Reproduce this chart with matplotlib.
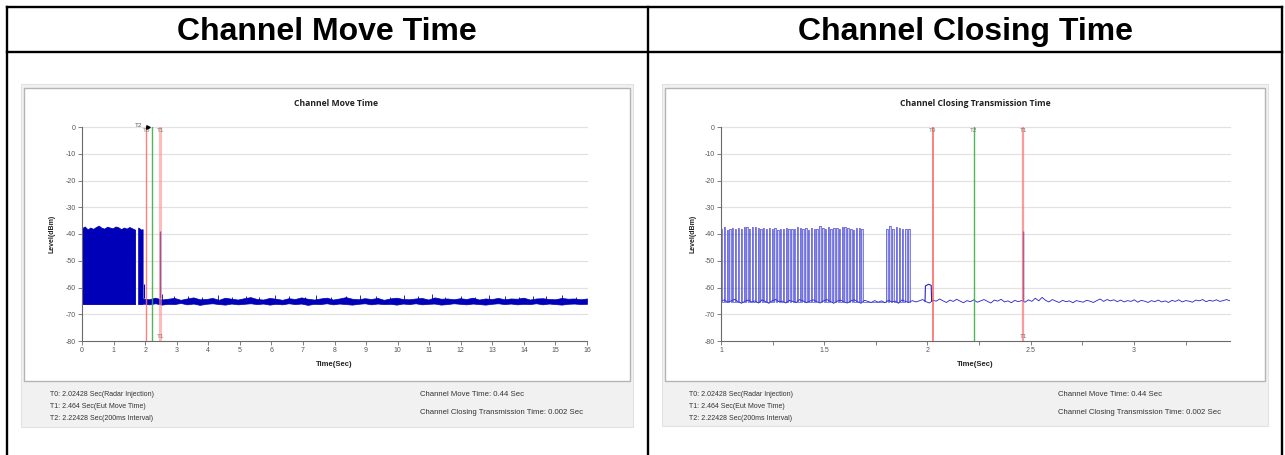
import numpy as np
import matplotlib
matplotlib.use('Agg')
import matplotlib.pyplot as plt
from matplotlib.patches import Rectangle
from matplotlib.lines import Line2D

plt.rcParams['font.family'] = ['Liberation Sans', 'DejaVu Sans']
plt.rcParams['axes.unicode_minus'] = False

# ---- data ----
headers = ['Channel Move Time', 'Channel Closing Time']
chart_titles = ['Channel Move Time', 'Channel Closing Transmission Time']

marker_names = ['T0', 'T2', 'T1']
marker_times = [2.02428, 2.22428, 2.464]

footer_left = ['T0: 2.02428 Sec(Radar Injection)',
               'T1: 2.464 Sec(Eut Move Time)',
               'T2: 2.22428 Sec(200ms Interval)']
footer_right = ['Channel Move Time: 0.44 Sec',
                'Channel Closing Transmission Time: 0.002 Sec']

y_ticks = [0, -10, -20, -30, -40, -50, -60, -70, -80]
left_x_ticks = list(range(0, 17))
right_x_ticks = [1, 1.5, 2, 2.5, 3]
right_x_labels = ['1', '1.5', '2', '2.5', '3']
right_minor_ticks = [1.25, 1.75, 2.25, 2.75, 3.25]

# left chart: dense burst (top envelope), second short burst, then noise band
burst1_top = [-37.8, -37.2, -38.3, -37.6, -38.1, -37.4, -36.9, -37.7, -38.0, -37.3,
              -37.6, -37.9, -37.2, -37.5, -38.2, -37.6, -38.0, -37.4, -37.9, -38.4]
burst1_span = (0.0, 1.68)
burst2_top = [-37.6, -38.0, -38.4, -38.2]
burst2_span = (1.78, 1.92)
burst_floor = -66.2
left_bump = (1.98, -58.7)
left_band_hi = [-64.1, -64.4, -63.8, -64.5, -64.2, -63.9, -64.6, -64.1, -63.7, -64.4,
                -64.3, -63.9, -64.6, -63.8, -64.2, -64.5, -64.0, -63.6, -64.3, -64.5,
                -63.9, -64.2, -64.6, -64.0, -64.3, -63.7, -64.2, -64.5, -64.1, -63.8,
                -64.5, -64.1, -63.6, -64.2, -64.4, -64.0, -64.3, -63.9, -64.6, -64.1,
                -63.8, -64.3, -64.4, -64.1, -63.9, -64.5, -63.7, -64.2, -64.1, -64.4,
                -64.0, -64.3, -63.8, -64.5, -64.1, -64.3, -63.9, -64.4, -64.1, -64.2,
                -63.8, -64.5, -64.1, -64.0, -64.3, -64.4, -63.9, -64.2, -64.1, -64.4,
                -64.1]
left_band_lo = [-66.0, -66.3, -65.9, -66.4, -66.1, -66.2, -65.8, -66.3, -66.0, -66.5,
                -66.1, -65.9, -66.2, -66.4, -66.0, -66.3, -66.1, -65.9, -66.2, -66.0,
                -66.4, -66.1, -66.3, -65.9, -66.2, -66.0, -66.5, -66.1, -66.2, -65.9,
                -66.3, -66.0, -66.2, -66.4, -66.1, -65.9, -66.3, -66.0, -66.2, -66.1,
                -66.4, -66.0, -66.2, -65.9, -66.3, -66.1, -66.0, -66.4, -66.2, -65.9,
                -66.1, -66.3, -66.0, -66.2, -66.4, -66.1, -65.9, -66.2, -66.0, -66.3,
                -66.1, -66.2, -65.9, -66.3, -66.0, -66.2, -66.4, -66.1, -66.0, -66.2,
                -66.1]
left_band_span = (1.92, 16.0)
# small upward hairs sticking out of the left noise band
hair_times = [2.55, 2.9, 3.35, 3.8, 4.3, 4.75, 5.2, 5.6, 6.1, 6.55, 7.05, 7.4, 7.9,
              8.35, 8.8, 9.3, 9.75, 10.2, 10.65, 11.1, 11.5, 12.0, 12.45, 12.9, 13.4,
              13.85, 14.3, 14.7, 15.2, 15.65]
hair_tops = [-62.6, -63.3, -63.0, -63.5, -62.9, -63.4, -63.1, -63.6, -62.8, -63.2,
             -63.4, -62.9, -63.5, -63.0, -62.7, -63.3, -63.5, -62.8, -63.1, -62.4,
             -63.4, -63.0, -63.6, -62.9, -63.2, -63.5, -63.0, -63.3, -62.9, -63.4]
spike = (2.464, -39.0)

# right chart: individual pulses, noise trace, bump before T0
pulse_times = [1.000, 1.014, 1.027, 1.041, 1.054, 1.068, 1.082, 1.095, 1.109, 1.122,
               1.136, 1.150, 1.163, 1.177, 1.190, 1.204, 1.218, 1.231, 1.245, 1.258,
               1.272, 1.286, 1.299, 1.313, 1.326, 1.340, 1.354, 1.367, 1.381, 1.394,
               1.408, 1.422, 1.435, 1.449, 1.462, 1.476, 1.490, 1.503, 1.517, 1.530,
               1.544, 1.558, 1.571, 1.585, 1.598, 1.612, 1.626, 1.639, 1.653, 1.666,
               1.680,
               1.800, 1.815, 1.830, 1.846, 1.861, 1.876, 1.892, 1.907]
pulse_peaks = [-38.0, -37.2, -38.4, -38.1, -37.9, -38.3, -37.6, -38.0, -37.4, -37.5,
               -38.2, -37.3, -37.4, -37.9, -38.1, -37.6, -38.0, -37.9, -38.2, -37.8,
               -38.4, -38.3, -38.1, -37.7, -38.2, -38.0, -38.3, -37.4, -37.8, -38.2,
               -37.9, -38.4, -37.6, -38.0, -38.2, -37.1, -37.9, -38.2, -37.5, -38.0,
               -37.6, -37.8, -38.3, -37.5, -37.4, -37.6, -38.1, -38.4, -37.9, -37.8,
               -38.3,
               -38.0, -37.0, -38.3, -37.2, -37.8, -38.1, -38.2, -38.3]
pulse_base = -65.4
right_noise_span = (1.0, 3.465)
right_noise = [-65.2, -64.6, -65.5, -65.0, -64.4, -65.3, -65.9, -65.1, -64.7, -65.4,
               -65.0, -65.8, -64.6, -65.2, -65.9, -64.9, -64.5, -65.3, -65.1, -65.8,
               -64.8, -65.2, -65.6, -64.5, -65.0, -65.7, -65.1, -64.6, -65.3, -65.8,
               -65.0, -64.5, -65.2, -65.9, -65.1, -64.7, -65.4, -65.8, -65.0, -64.6,
               -65.3, -65.9, -64.8, -65.2, -65.6, -64.9, -65.5, -65.0, -65.7, -64.8,
               -65.4, -65.1, -65.9, -64.6, -65.2, -65.6, -64.9, -65.4, -65.0, -64.5,
               -65.3, -65.8, -64.8, -65.1, -64.3, -65.0, -65.6, -64.7, -65.2, -64.4,
               -65.1, -65.7, -64.9, -65.3, -64.6, -65.5, -65.0, -64.5, -65.2, -65.8,
               -64.7, -65.1, -64.4, -65.4, -65.0, -65.7, -64.8, -65.3, -64.9, -65.5,
               -64.6, -65.2, -64.0, -65.0, -63.7, -64.8, -65.4, -64.5, -65.1, -65.6,
               -64.8, -65.3, -65.0, -65.7, -64.9, -65.2, -65.5, -64.8, -65.1, -65.6,
               -64.9, -64.3, -65.2, -64.5, -65.0, -64.6, -65.3, -64.7, -65.4, -64.9,
               -65.2, -64.6, -65.5, -64.8, -65.1, -65.6, -64.9, -65.3, -64.7, -65.4,
               -65.0, -65.6, -64.8, -65.2, -64.6, -65.4, -64.9, -65.1, -65.5, -64.7,
               -65.0, -64.5, -65.3, -64.8, -65.1, -64.6, -65.2, -64.9, -64.5, -65.0]
right_bump = [(1.988, -65.2), (1.990, -59.4), (2.005, -58.8), (2.018, -59.2), (2.020, -65.0)]

# ---- layout helpers (pixel coords of the 1285x455 screenshot) ----
W, H = 1285, 455


def fx(px):
    return px / W


def fy(py):
    return 1 - py / H


fig = plt.figure(figsize=(12.85, 4.55), dpi=100)
fig.patch.set_facecolor('white')


def fig_line(x0, y0, x1, y1):
    fig.add_artist(Line2D([fx(x0), fx(x1)], [fy(y0), fy(y1)], color='black',
                          lw=1.7, transform=fig.transFigure, zorder=5))


def fig_rect(x0, y0, x1, y1, fc, ec, lw):
    fig.add_artist(Rectangle((fx(x0), fy(y1)), fx(x1) - fx(x0), fy(y0) - fy(y1),
                             transform=fig.transFigure, facecolor=fc, edgecolor=ec,
                             lw=lw, zorder=-5))


# table grid
fig_line(7, 7, 1282, 7)
fig_line(7, 52, 1282, 52)
fig_line(7, 7, 7, 455)
fig_line(1282, 7, 1282, 455)
fig_line(648, 7, 648, 455)

fig.text(fx(327), fy(32), headers[0], fontsize=23, weight='bold', ha='center', va='center')
fig.text(fx(965), fy(32), headers[1], fontsize=23, weight='bold', ha='center', va='center')

panels = [
    dict(outer=(21, 84, 633, 427), inner=(24, 88, 630, 381), ax=(82, 127, 587, 341),
         foot_l=50, foot_r=420, ylab=52),
    dict(outer=(662, 84, 1268, 426), inner=(665, 88, 1265, 381), ax=(721, 127, 1230, 341),
         foot_l=689, foot_r=1058, ylab=693),
]

axes = []
for i, p in enumerate(panels):
    fig_rect(*p['outer'], '#f1f1f1', '#e2e2e2', 0.8)
    fig_rect(*p['inner'], 'white', '#b4b4b4', 1.0)
    x0, y0, x1, y1 = p['ax']
    ax = fig.add_axes([fx(x0), fy(y1), fx(x1) - fx(x0), fy(y0) - fy(y1)])
    ax.set_facecolor('none')
    ax.set_ylim(-80, 0)
    ax.set_yticks(y_ticks)
    for lv in y_ticks[:-1]:
        ax.axhline(lv, color='#e2e2e2', lw=0.9, zorder=0, clip_on=False)
    for s in ['top', 'right']:
        ax.spines[s].set_visible(False)
    for s in ['left', 'bottom']:
        ax.spines[s].set_color('#6a6a6a')
        ax.spines[s].set_linewidth(0.8)
    ax.tick_params(labelsize=5, labelcolor='#555555', color='#6a6a6a', length=3,
                   width=0.6, pad=1.5)
    axes.append(ax)

    cx = (x0 + x1) / 2
    fig.text(fx(cx + (1 if i == 0 else 0)), fy(104), chart_titles[i], fontsize=6.2,
             weight='bold', family=['Open Sans', 'DejaVu Sans'], ha='center', va='center',
             color='#222222')
    fig.text(fx(p['ylab']), fy(234), 'Level(dBm)', fontsize=5, weight='bold',
             rotation=90, ha='center', va='center', color='#222222')
    fig.text(fx(cx), fy(365), 'Time(Sec)', fontsize=5.5, weight='bold',
             ha='center', va='center', color='#222222')
    fig.text(fx(p['foot_l']), fy(394), footer_left[0], fontsize=5, ha='left', va='center', color='#333333')
    fig.text(fx(p['foot_l']), fy(407), footer_left[1], fontsize=5, ha='left', va='center', color='#333333')
    fig.text(fx(p['foot_l']), fy(418), footer_left[2], fontsize=5, ha='left', va='center', color='#333333')
    fig.text(fx(p['foot_r']), fy(394), footer_right[0], fontsize=5.6, ha='left', va='center', color='#333333')
    fig.text(fx(p['foot_r']), fy(413), footer_right[1], fontsize=5.6, ha='left', va='center', color='#333333')

blue = '#0000b8'

# ---- left chart ----
ax = axes[0]
ax.set_xlim(0, 16)
ax.set_xticks(left_x_ticks)
t1 = np.linspace(*burst1_span, len(burst1_top))
ax.fill_between(t1, burst_floor, burst1_top, color=blue, lw=0.6, zorder=2)
t2 = np.linspace(*burst2_span, len(burst2_top))
ax.fill_between(t2, burst_floor, burst2_top, color=blue, lw=0.6, zorder=2)
ax.vlines(left_bump[0], -64, left_bump[1], color=blue, lw=0.8, zorder=2)
tb = np.linspace(*left_band_span, len(left_band_hi))
ax.fill_between(tb, left_band_lo, left_band_hi, color=blue, lw=0.5, zorder=2)
ax.vlines(hair_times, -64.5, hair_tops, color=blue, lw=0.6, zorder=2)
ax.vlines(spike[0], -64, spike[1], color=blue, lw=1.0, zorder=2)

mk_style = {'T0': ('#ff7070', 1.0, 0.9), 'T2': ('#3cb043', 1.0, 0.9), 'T1': ('#ff8c8c', 2.2, 0.6)}
for name, t in zip(marker_names, marker_times):
    c, lw, a = mk_style[name]
    ax.axvline(t, color=c, lw=lw, alpha=a, zorder=3)
ax.text(1.78, 0.4, 'T2', fontsize=4.5, color='#555555', ha='center', va='center', clip_on=False)
ax.plot([2.1], [0.1], marker='>', ms=2.5, color='black', clip_on=False, zorder=4)
ax.text(2.05, -1.3, 'T0', fontsize=4.5, color='#777777', ha='center', va='center')
ax.text(2.50, -1.3, 'T1', fontsize=4.5, color='#777777', ha='center', va='center')
ax.text(2.50, -78.2, 'T1', fontsize=4.5, color='#777777', ha='center', va='center')

# ---- right chart ----
ax = axes[1]
ax.set_xlim(1, 3.465)
ax.set_xticks(right_x_ticks)
ax.set_xticklabels(right_x_labels)
ax.set_xticks(right_minor_ticks, minor=True)
ax.tick_params(which='minor', length=3, width=0.6, color='#6a6a6a')

tn = np.linspace(*right_noise_span, len(right_noise))
ax.plot(tn, right_noise, color='#2222cc', lw=0.6, zorder=2)

pw = 0.0065
px_, py_ = [], []
for t, pk in zip(pulse_times, pulse_peaks):
    px_ += [t, t, t + pw, t + pw]
    py_ += [pulse_base, pk, pk, pulse_base]
    ax.fill_between([t, t + pw], pulse_base, pk, color='#9a9ae8', alpha=0.45, lw=0, zorder=1)
ax.plot(px_, py_, color='#3a3ad6', lw=0.6, alpha=0.75, zorder=2)
ax.plot([b[0] for b in right_bump], [b[1] for b in right_bump], color='#2222cc', lw=0.8, zorder=2)
ax.vlines(spike[0], -65, spike[1], color='#2222cc', lw=1.0, zorder=2)

mk_style_r = {'T0': ('#ff4c4c', 1.1, 0.9), 'T2': ('#3cb043', 1.0, 0.9), 'T1': ('#ff6f6f', 1.6, 0.7)}
for name, t in zip(marker_names, marker_times):
    c, lw, a = mk_style_r[name]
    ax.axvline(t, color=c, lw=lw, alpha=a, zorder=3)
    ax.text(t, -1.3, name, fontsize=4.5, color='#777777', ha='center', va='center')
ax.text(marker_times[2], -78.2, 'T1', fontsize=4.5, color='#777777', ha='center', va='center')

fig.savefig('out.png', dpi=100)
